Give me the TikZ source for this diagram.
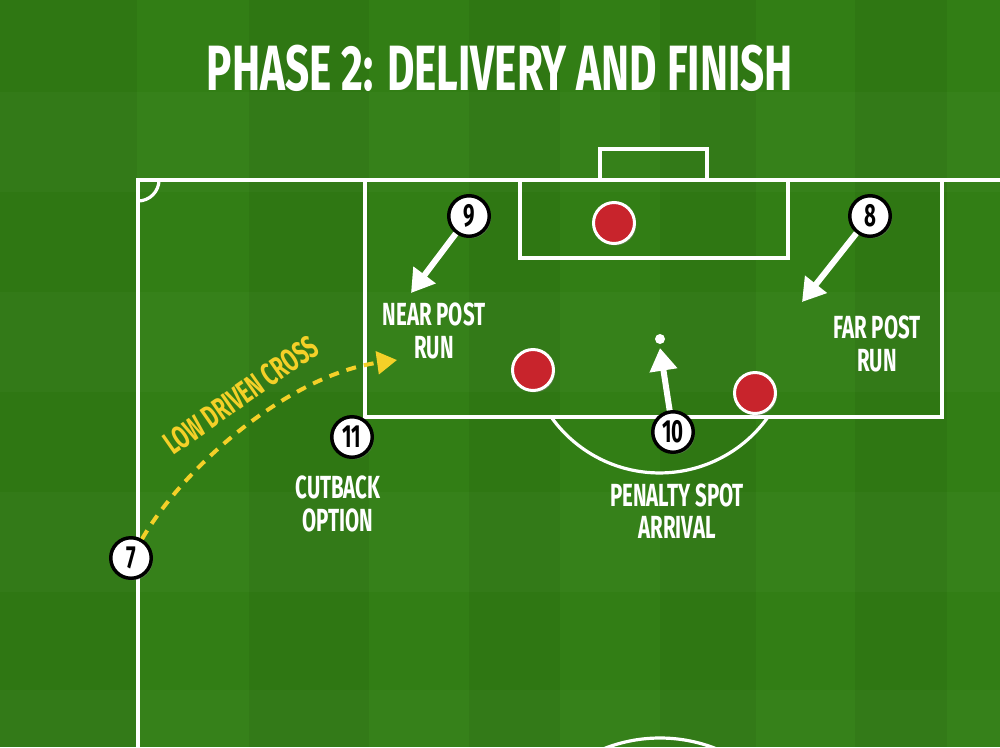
\documentclass[tikz,border=0pt]{standalone}
\usepackage{fontspec}
\newfontfamily\bebas[FakeStretch=0.64]{Fira Sans}
\newfontfamily\bebastitle[FakeStretch=0.66]{Fira Sans}
\usetikzlibrary{arrows.meta,shadows}
\definecolor{grass}{RGB}{50,126,21}
\definecolor{oppred}{RGB}{200,36,44}
\definecolor{crossyel}{RGB}{244,208,40}
\tikzset{
  pline/.style={draw=white,line width=2.4pt},
  player/.style={circle,fill=white,draw=black,line width=2.6pt,minimum size=30.4pt,inner sep=0pt,
     font=\bebas\bfseries\fontsize{24}{24}\selectfont,text=black,
     drop shadow={shadow xshift=1.2pt,shadow yshift=-1.5pt,opacity=.45}},
  opp/.style={circle,fill=oppred,draw=white,line width=2.25pt,minimum size=30.75pt,inner sep=0pt,
     drop shadow={shadow xshift=1.2pt,shadow yshift=-1.5pt,opacity=.45}},
  lbl/.style={text=white,align=center,inner sep=0pt,font=\bebas\bfseries\fontsize{24}{24.5}\selectfont},
  runarrow/.style={draw=white,line width=4.5pt,-{Triangle[length=17pt,width=20pt]}},
  crossline/.style={draw=crossyel,line width=3pt,dash pattern=on 7.5pt off 6pt,
     -{Triangle[length=15pt,width=17pt]}},
}
\begin{document}
\begin{tikzpicture}[x=0.75pt,y=-0.75pt]
\path[use as bounding box] (0,0) rectangle (1000,747);
\clip (0,0) rectangle (1000,747);
% grass
\fill[grass] (0,0) rectangle (1000,747);
\foreach \xa/\xb [count=\k] in {0/137,137/249,249/369,369/469,469/560,560/660,660/756,756/855,855/947,947/1000}{
  \ifodd\k \fill[black,opacity=.05] (\xa,0) rectangle (\xb,747);\fi }
\foreach \ya/\yb [count=\k] in {0/92,92/192,192/292,292/392,392/492,492/592,592/690,690/747}{
  \ifodd\k\else \fill[white,opacity=.025] (0,\ya) rectangle (1000,\yb);\fi }
% pitch markings
\draw[pline] (138,747) -- (138,180) -- (1000,180);
\draw[pline] (159,180) arc[start angle=0,end angle=90,radius=21];
\draw[pline] (365,180) -- (365,417) -- (942,417) -- (942,180);
\draw[pline] (520,180) -- (520,258) -- (788,258) -- (788,180);
\draw[pline] (600,180) -- (600,149) -- (707,149) -- (707,180);
\draw[pline] (768,417) arc[start angle=35.4,end angle=144.6,radius=133];
\draw[pline] (660,890) circle[radius=152];
\fill[white] (660,339) circle[radius=5] coordinate (spot);
% title
\node[text=white,inner sep=0pt,font=\bebastitle\bfseries\fontsize{48}{48}\selectfont] (title) at (500,68) {PHASE 2: DELIVERY AND FINISH};
% opponents
\node[opp] (d1) at (614,223) {};
\node[opp] (d2) at (533,370) {};
\node[opp] (d3) at (755,393) {};
% run targets
\coordinate (t9) at (411,293);
\coordinate (t8) at (802,302);
\coordinate (t10) at (660,348);
\coordinate (tcross) at (397,360);
% players
\node[player] (p9) at (469,216) {9};
\node[player] (p8) at (870,216) {8};
\node[player] (p11) at (352,437) {11};
\node[player] (p10) at (673,432) {10};
\node[player] (p7) at (131,558) {7};
% arrows
\draw[runarrow] (p9) -- (t9);
\draw[runarrow] (p8) -- (t8);
\draw[runarrow] (p10) -- (t10);
\draw[crossline] (p7) .. controls (185,465) and (290,375) .. (tcross);
% labels
\node[lbl] (lnear) at (434,331) {NEAR POST\\RUN};
\node[lbl] (lfar) at (877,344) {FAR POST\\RUN};
\node[lbl] (lcut) at (338,504) {CUTBACK\\OPTION};
\node[lbl] (lpen) at (677,511) {PENALTY SPOT\\ARRIVAL};
\node[text=crossyel,inner sep=0pt,rotate=35,font=\bebas\bfseries\fontsize{24}{24}\selectfont] (lcross) at (241,395) {LOW DRIVEN CROSS};
\end{tikzpicture}
\end{document}
